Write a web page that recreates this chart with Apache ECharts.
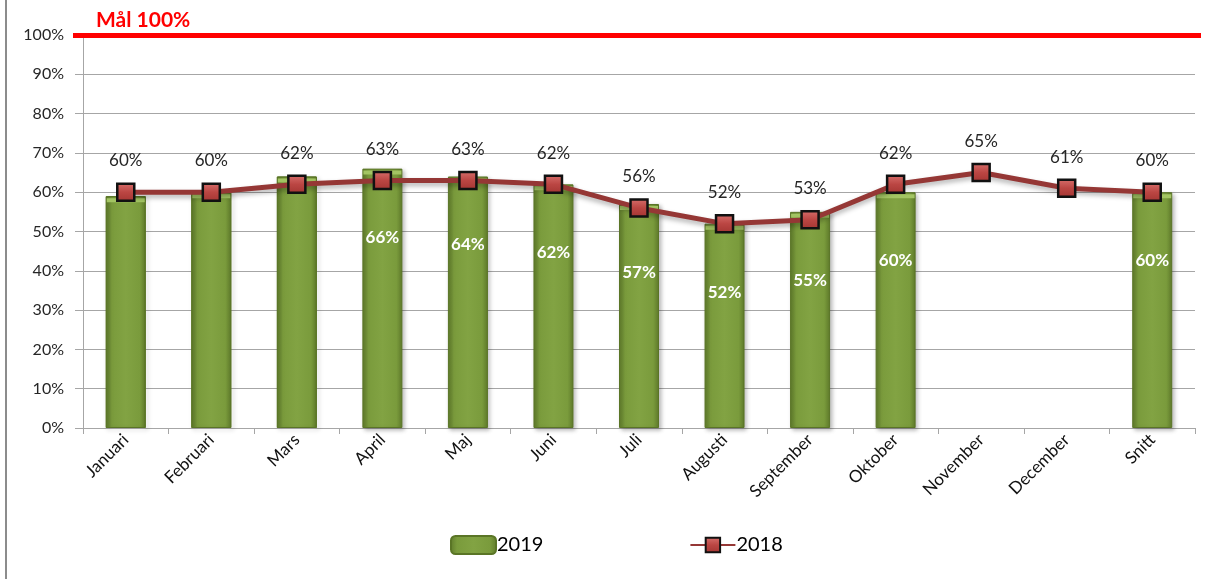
<!DOCTYPE html>
<html>
<head>
<meta charset="utf-8">
<script src="https://cdn.jsdelivr.net/npm/echarts@6/dist/echarts.min.js"></script>
<style>
  html, body { margin: 0; padding: 0; background: #fff; }
  #chart { width: 1208px; height: 579px; }
</style>
</head>
<body>
<div id="chart"></div>
<script>
// Månader plus årssnitt
const categories = ['Januari', 'Februari', 'Mars', 'April', 'Maj', 'Juni', 'Juli',
  'Augusti', 'September', 'Oktober', 'November', 'December', 'Snitt'];
// Utfall 2019 (staplar), november och december saknas ännu
const values2019 = [59, 60, 64, 66, 64, 62, 57, 52, 55, 60, null, null, 60];
// Utfall 2018 (linje)
const values2018 = [60, 60, 62, 63, 63, 62, 56, 52, 53, 62, 65, 61, 60];
// Månader där stapeletiketten visas
const barLabelShown = [false, false, false, true, true, true, true, true, true, true, false, false, true];
// Målnivå
const goal = 100;
const goalLabel = 'Mål 100%';
const yTicks = { min: 0, max: 100, interval: 10 };

const font = 'Lato, "Open Sans", sans-serif';

const barGradient = new echarts.graphic.LinearGradient(0, 0, 1, 0, [
  { offset: 0, color: '#5f7b2b' },
  { offset: 0.15, color: '#7a9b3c' },
  { offset: 0.5, color: '#82a343' },
  { offset: 0.85, color: '#7a9b3c' },
  { offset: 1, color: '#5f7b2b' }
]);
const markerGradient = new echarts.graphic.LinearGradient(0, 0, 0, 1, [
  { offset: 0, color: '#d8706d' },
  { offset: 0.5, color: '#bb4643' },
  { offset: 1, color: '#a33532' }
]);

const chart = echarts.init(document.getElementById('chart'), null, { renderer: 'canvas' });

const goalLine = {
  silent: true,
  symbol: 'none',
  data: [{ yAxis: goal }],
  lineStyle: { color: '#ff0000', width: 5, type: 'solid' },
  label: {
    show: true,
    position: 'insideStartTop',
    formatter: goalLabel,
    color: '#ff0000',
    fontWeight: 'bold',
    fontSize: 21,
    fontFamily: font,
    distance: [14, 4]
  }
};

chart.setOption({
  animation: false,
  backgroundColor: '#ffffff',
  textStyle: { fontFamily: font },
  graphic: [{
    type: 'line',
    shape: { x1: 6, y1: 0, x2: 6, y2: 579 },
    style: { stroke: '#8c8c8c', lineWidth: 2 }
  }],
  legend: {
    bottom: 19,
    left: 445,
    itemGap: 146,
    itemWidth: 45,
    itemHeight: 18,
    data: ['2019', '2018'],
    textStyle: { fontSize: 20, color: '#000', fontFamily: font, padding: [0, 0, 0, -4] }
  },
  grid: { left: 83, right: 13, top: 35, bottom: 151, containLabel: false },
  xAxis: {
    type: 'category',
    data: categories,
    boundaryGap: true,
    axisLine: { lineStyle: { color: '#a6a6a6', width: 1 } },
    axisTick: { show: true, length: 6, lineStyle: { color: '#a6a6a6' } },
    axisLabel: { rotate: 45, margin: 9, fontSize: 17, color: '#111', fontFamily: font }
  },
  yAxis: {
    type: 'value',
    min: yTicks.min,
    max: yTicks.max,
    interval: yTicks.interval,
    axisLine: { show: true, lineStyle: { color: '#a6a6a6', width: 1 } },
    axisTick: { show: true, length: 8, lineStyle: { color: '#a6a6a6' } },
    axisLabel: { formatter: '{value}%', fontSize: 16, color: '#262626', margin: 19, fontFamily: font },
    splitLine: { lineStyle: { color: '#a6a6a6', width: 1 } }
  },
  series: [
    {
      name: '2019',
      type: 'bar',
      barWidth: 40,
      barGap: '-100%',
      data: values2019.map((v, i) => ({
        value: v,
        label: { show: barLabelShown[i] }
      })),
      itemStyle: {
        color: barGradient,
        borderColor: '#5a7526',
        borderWidth: 1,
        shadowColor: 'rgba(0,0,0,0.25)',
        shadowBlur: 4,
        shadowOffsetX: 2,
        shadowOffsetY: 2
      },
      label: {
        position: 'insideTop',
        distance: 60,
        formatter: p => p.value + '%',
        color: '#ffffff',
        fontWeight: 'bold',
        fontSize: 17,
        fontFamily: font
      },
      z: 2
    },
    {
      // ljus överkant på staplarna
      name: '2019-top',
      type: 'pictorialBar',
      barWidth: 40,
      barGap: '-100%',
      symbol: 'rect',
      symbolSize: [38, 4],
      symbolPosition: 'end',
      symbolOffset: [0, '50%'],
      data: values2019,
      itemStyle: { color: '#a3c563' },
      tooltip: { show: false },
      z: 3
    },
    {
      name: '2018',
      type: 'line',
      data: values2018,
      symbol: 'rect',
      symbolSize: 17,
      lineStyle: {
        color: '#953735',
        width: 5,
        shadowColor: 'rgba(0,0,0,0.3)',
        shadowBlur: 5,
        shadowOffsetY: 3
      },
      itemStyle: {
        color: markerGradient,
        borderColor: '#111111',
        borderWidth: 2.5
      },
      label: {
        show: true,
        position: 'top',
        distance: 13,
        formatter: p => p.value + '%',
        color: '#262626',
        fontSize: 17,
        fontFamily: font
      },
      markLine: goalLine,
      z: 5
    }
  ]
});

// Mållinjen sträcker sig något utanför ritytan, som i rapportmallen
const goalY = chart.convertToPixel({ yAxisIndex: 0 }, goal);
chart.setOption({
  series: [{}, {}, {
    markLine: Object.assign({}, goalLine, {
      data: [[{ x: 73, y: goalY }, { x: 1201, y: goalY }]],
      label: Object.assign({}, goalLine.label, { distance: [23, 4] })
    })
  }]
});
</script>
</body>
</html>
